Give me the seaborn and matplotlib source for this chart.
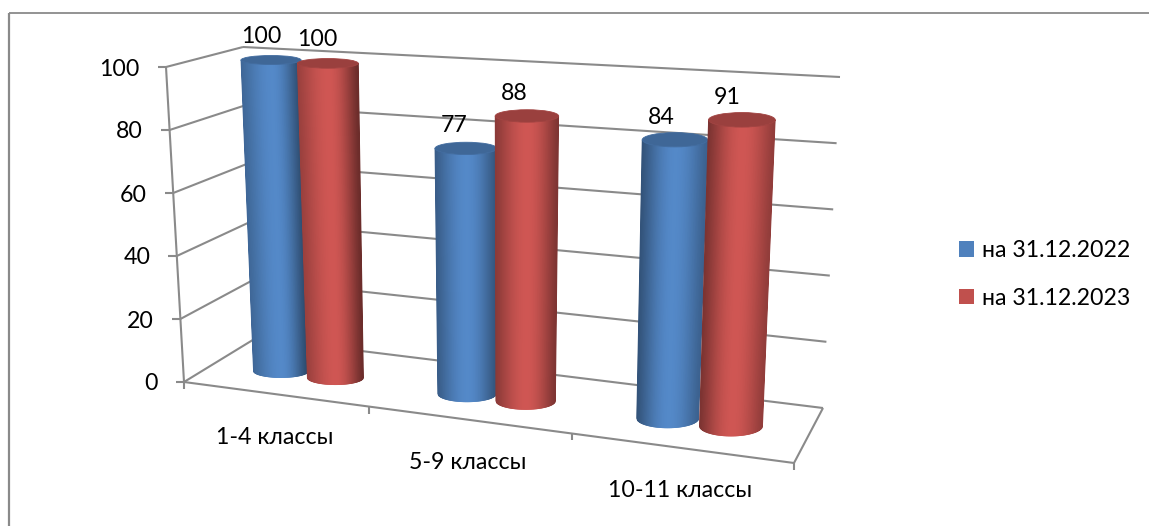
import numpy as np
import pandas as pd
import matplotlib
matplotlib.use("Agg")
import matplotlib.pyplot as plt
from matplotlib.collections import PolyCollection
from matplotlib.patches import Ellipse, Patch
import seaborn as sns

# ---------- data ----------
categories = ["1-4 классы", "5-9 классы", "10-11 классы"]
series_names = ["на 31.12.2022", "на 31.12.2023"]
values_2022 = [100, 77, 84]
values_2023 = [100, 88, 91]
value_ticks = [0, 20, 40, 60, 80, 100]
palette = ["#4F81BD", "#C0504D"]

# ---------- projection of the 3-D view (pixel anchors) ----------
W, H = 1149, 526
BAR_SRC = [(-0.15, 0), (2.15, 0), (-0.15, 100), (2.15, 100)]
BAR_DST = [(281, 371), (731, 426), (271, 60), (743, 88)]
FRONT_L, FRONT_R = np.array([184., 382.]), np.array([794., 463.])
LEFT_TOP = np.array([166., 67.])
BACK_L0, BACK_L100 = np.array([256., 338.]), np.array([243., 47.])
BACK_R0, BACK_R100 = np.array([823., 408.]), np.array([840., 77.])
GRID = "#8A8A8A"
FS = 16.7


def homography(src, dst):
    A, b = [], []
    for (x, y), (u, v) in zip(src, dst):
        A.append([x, y, 1, 0, 0, 0, -u * x, -u * y]); b.append(u)
        A.append([0, 0, 0, x, y, 1, -v * x, -v * y]); b.append(v)
    return np.append(np.linalg.solve(np.array(A, float), np.array(b, float)), 1).reshape(3, 3)


HM = homography(BAR_SRC, BAR_DST)


def project(x, v):
    p = HM @ np.array([x, v, 1.0])
    return p[:2] / p[2]


def bilin(x, v, c00, c10, c01, c11):
    s, t = (x + 0.15) / 2.3, v / 100
    return (c00 * (1 - s) + c10 * s) * (1 - t) + (c01 * (1 - s) + c11 * s) * t


def width_at(x, v):
    return bilin(x, v, 55, 63, 60, 67)


def semi_h(x, v):
    return bilin(x, v, 6.5, 10, 4.5, 7)


def lerp(a, b, t):
    return a + (b - a) * t


def front_point(slot):
    # position along the front floor edge, slot in category units, with perspective
    s = slot / len(categories)
    b = -0.129
    t = (1 + b) * s / (1 + b * s)
    return lerp(FRONT_L, FRONT_R, t)


def shade(colour, k):
    c = np.array(matplotlib.colors.to_rgb(colour))
    return tuple(np.clip(c * k, 0, 1))


sns.set_theme(style="white")
plt.rcParams["font.family"] = ["Lato", "Noto Sans", "DejaVu Sans"]

frame = pd.DataFrame({
    "класс": categories * 2,
    "серия": np.repeat(series_names, len(categories)),
    "значение": values_2022 + values_2023,
})

fig, ax = plt.subplots(figsize=(W / 100, H / 100), dpi=100)
sns.barplot(data=frame, x="класс", y="значение", hue="серия", hue_order=series_names,
            palette=palette, width=0.6, saturation=1, legend=False, ax=ax)

# read the bars that seaborn laid out
bars = []
for s_idx, container in enumerate(ax.containers):
    for c_idx, bar in enumerate(container):
        bars.append((s_idx, c_idx, bar.get_x() + bar.get_width() / 2, bar.get_height()))
        bar.set_visible(False)

ax.set_position([0, 0, 1, 1])
ax.set_xlabel(""); ax.set_ylabel("")
ax.set_xticks([]); ax.set_yticks([])
ax.set_xlim(0, W); ax.set_ylim(H, 0)
for sp in ax.spines.values():
    sp.set_visible(False)
ax.set_facecolor("white")


def line(p, q, lw=1.5, color=GRID, z=1):
    ax.plot([p[0], q[0]], [p[1], q[1]], color=color, lw=lw, solid_capstyle="butt", zorder=z)


# chart border: top and left only
line((9, 12.5), (W, 12.5), lw=1.3)
line((9, 12.5), (9, H), lw=1.6)

# walls and gridlines
for v in value_ticks:
    t = v / 100
    fl = lerp(FRONT_L, LEFT_TOP, t)
    bl = lerp(BACK_L0, BACK_L100, t)
    br = lerp(BACK_R0, BACK_R100, t)
    line(fl, bl)
    line(bl, br)
    line(fl, fl - np.array([8.5, 0]))
    ax.text(fl[0] - 26.5, fl[1] + 2, str(v), ha="right", va="center", fontsize=FS, color="black")

line(FRONT_L, LEFT_TOP)
line(FRONT_L, FRONT_R)
line(FRONT_R, BACK_R0)
for s in range(len(categories) + 1):
    p = front_point(s)
    line(p, p + np.array([0, 7]))

# category labels
for i, name in enumerate(categories):
    mid = front_point(i + 0.5)
    ax.text(mid[0], mid[1] + 43, name, ha="center", va="center", fontsize=FS, color="black")

# cylinders
N = 90
for s_idx, c_idx, x, v in sorted(bars, key=lambda b: (b[1], b[0])):
    z = 3 + c_idx + s_idx * 0.5
    col = palette[s_idx]
    top = project(x, v)
    bot = project(x, 0)
    wt, wb = width_at(x, v), width_at(x, 0)
    ht, hb = semi_h(x, v), semi_h(x, 0)
    edge_l = 0.80 - 0.08 * c_idx
    edge_r = 0.56 + 0.10 * c_idx
    peak = 1.08 if s_idx == 1 else 1.06
    ts = np.linspace(0, 1, N + 1)
    polys, cols = [], []
    for a, b in zip(ts[:-1], ts[1:]):
        m = (a + b) / 2
        ua, ub = 2 * a - 1, 2 * b - 1
        xa_t, xb_t = top[0] + ua * wt / 2, top[0] + ub * wt / 2
        xa_b, xb_b = bot[0] + ua * wb / 2, bot[0] + ub * wb / 2
        ya_t, yb_t = top[1] + ht * np.sqrt(1 - ua ** 2), top[1] + ht * np.sqrt(1 - ub ** 2)
        ya_b, yb_b = bot[1] + hb * np.sqrt(1 - ua ** 2), bot[1] + hb * np.sqrt(1 - ub ** 2)
        polys.append([(xa_t, ya_t), (xb_t, yb_t), (xb_b, yb_b), (xa_b, ya_b)])
        peak_at = 0.52
        if m < peak_at:
            k = edge_l + (peak - edge_l) * np.sin(m / peak_at * np.pi / 2) ** 1.2
        else:
            k = edge_r + (peak - edge_r) * np.sin((1 - m) / (1 - peak_at) * np.pi / 2) ** 1.2
        cols.append(shade(col, k))
    ax.add_collection(PolyCollection(polys, facecolors=cols, edgecolors=cols,
                                     linewidths=0.6, zorder=z))
    ax.add_patch(Ellipse(top, wt, 2 * ht, facecolor=shade(col, 0.80),
                         edgecolor=shade(col, 0.84), lw=0.6, zorder=z + 0.1))
    # value label
    dx = -10 - 2.0 * (x + 0.15)
    dy = -23.5 + 0.8 * c_idx
    ax.text(top[0] + dx, top[1] + dy, f"{v:.0f}", ha="center", va="center",
            fontsize=FS, color="black", zorder=20)

# legend
handles = [Patch(facecolor=c, edgecolor="none", label=n) for c, n in zip(palette, series_names)]
ax.legend(handles=handles, loc="upper left", bbox_to_anchor=(959 / W, 1 - 240 / H),
          bbox_transform=ax.transAxes, frameon=False, fontsize=FS, borderpad=0,
          borderaxespad=0, handlelength=0.65, handleheight=0.65, handletextpad=0.35,
          labelspacing=1.15, labelcolor="black")

fig.savefig("out.png", dpi=100, facecolor="white")
